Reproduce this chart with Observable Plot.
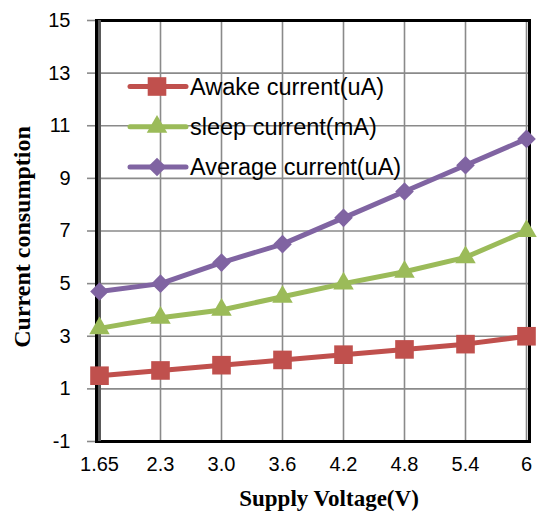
<!DOCTYPE html>
<html>
<head>
<meta charset="utf-8">
<script src="https://cdn.jsdelivr.net/npm/d3@7"></script>
<script src="https://cdn.jsdelivr.net/npm/@observablehq/plot@0.6"></script>
<style>
  html, body { margin: 0; padding: 0; background: #fff; }
  #wrap { position: relative; width: 539px; height: 511px; }
  #legend { position: absolute; left: 0; top: 0; pointer-events: none; }
</style>
</head>
<body>
<div id="wrap"></div>
<script>
const categories = ["1.65", "2.3", "3.0", "3.6", "4.2", "4.8", "5.4", "6"];
const awake = [1.5, 1.7, 1.9, 2.1, 2.3, 2.5, 2.7, 3.0];
const sleep = [3.3, 3.7, 4.0, 4.5, 5.0, 5.45, 6.0, 7.0];
const average = [4.7, 5.0, 5.8, 6.5, 7.5, 8.5, 9.5, 10.5];
const yTicks = [-1, 1, 3, 5, 7, 9, 11, 13, 15];
const yTickLabels = ["-1", "1", "3", "5", "7", "9", "11", "13", "15"];
const seriesNames = ["Awake current(uA)", "sleep current(mA)", "Average current(uA)"];
const seriesColors = ["#C0504D", "#9BBB59", "#8064A2"];
const seriesSymbols = ["square", "triangle", "diamond2"];
const seriesR = [10.5, 7.6, 8.4];
const xTitle = "Supply Voltage(V)";
const yTitle = "Current consumption";

const seriesValues = [awake, sleep, average];
const rows = [];
seriesValues.forEach((vals, s) => {
  vals.forEach((v, i) => rows.push({series: seriesNames[s], cat: categories[i], value: v}));
});

const lineMarks = [];
seriesNames.forEach((name, s) => {
  const data = rows.filter(d => d.series === name);
  lineMarks.push(Plot.line(data, {x: "cat", y: "value", stroke: seriesColors[s], strokeWidth: 5, strokeLinejoin: "round", strokeLinecap: "round"}));
});
seriesNames.forEach((name, s) => {
  const data = rows.filter(d => d.series === name);
  lineMarks.push(Plot.dot(data, {x: "cat", y: "value", symbol: () => seriesSymbols[s], fill: seriesColors[s], stroke: "none", r: seriesR[s]}));
});

const chart = Plot.plot({
  width: 539,
  height: 511,
  marginLeft: 96,
  marginRight: 10,
  marginTop: 20,
  marginBottom: 70,
  style: {fontFamily: "'Liberation Sans', Arial, sans-serif", fontSize: "20px", background: "#fff", color: "#000", overflow: "visible"},
  x: {type: "point", domain: categories, padding: 0, axis: null},
  y: {domain: [-1, 15], axis: null},
  symbol: {type: "identity"},
  marks: [
    Plot.gridY(yTicks, {stroke: "#8a8a8a", strokeOpacity: 1, strokeWidth: 1.6}),
    Plot.gridX(categories, {stroke: "#8a8a8a", strokeOpacity: 1, strokeWidth: 1.6}),
    Plot.axisY(yTicks, {tickSize: 9, tickPadding: 17, stroke: "#8a8a8a", strokeWidth: 1.6, fill: "#000", fontSize: 20, label: null, tickFormat: d => yTickLabels[yTicks.indexOf(d)]}),
    Plot.axisX(categories, {tickSize: 0, tickPadding: 15, fill: "#000", fontSize: 20, label: null}),
    Plot.frame({stroke: "#000", strokeWidth: 3}),
    Plot.ruleX([categories[0]], {stroke: "#5a5a5a", strokeWidth: 3}),
    ...lineMarks,
    Plot.text([xTitle], {frameAnchor: "bottom", textAnchor: "middle", lineAnchor: "middle", dx: 16, dy: 57, fontFamily: "'Liberation Serif', 'Times New Roman', serif", fontWeight: "bold", fontSize: 23, fill: "#000"}),
    Plot.text([yTitle], {frameAnchor: "left", textAnchor: "middle", lineAnchor: "middle", rotate: -90, dx: -74, dy: 6, fontFamily: "'Liberation Serif', 'Times New Roman', serif", fontWeight: "bold", fontSize: 24, fill: "#000"})
  ]
});

const wrap = document.getElementById("wrap");
wrap.appendChild(chart);

// Legend overlay (inside plot area, top-left)
const legendY = [86.5, 126.8, 167];
const lg = d3.select(wrap).append("svg")
  .attr("id", "legend")
  .attr("width", 539).attr("height", 511);
const symMap = {square: d3.symbolSquare, triangle: d3.symbolTriangle, diamond2: d3.symbolDiamond2};
seriesNames.forEach((name, s) => {
  const g = lg.append("g").attr("transform", `translate(0,${legendY[s]})`);
  g.append("line").attr("x1", 130).attr("x2", 186).attr("y1", 0).attr("y2", 0)
    .attr("stroke", seriesColors[s]).attr("stroke-width", 5).attr("stroke-linecap", "round");
  g.append("path").attr("transform", "translate(157,0)")
    .attr("d", d3.symbol(symMap[seriesSymbols[s]], seriesR[s] * seriesR[s] * Math.PI)())
    .attr("fill", seriesColors[s]);
  g.append("text").attr("x", 190).attr("y", 8)
    .attr("font-family", "'Liberation Sans', Arial, sans-serif")
    .attr("font-size", 23.5).attr("fill", "#000").text(name);
});
</script>
</body>
</html>
